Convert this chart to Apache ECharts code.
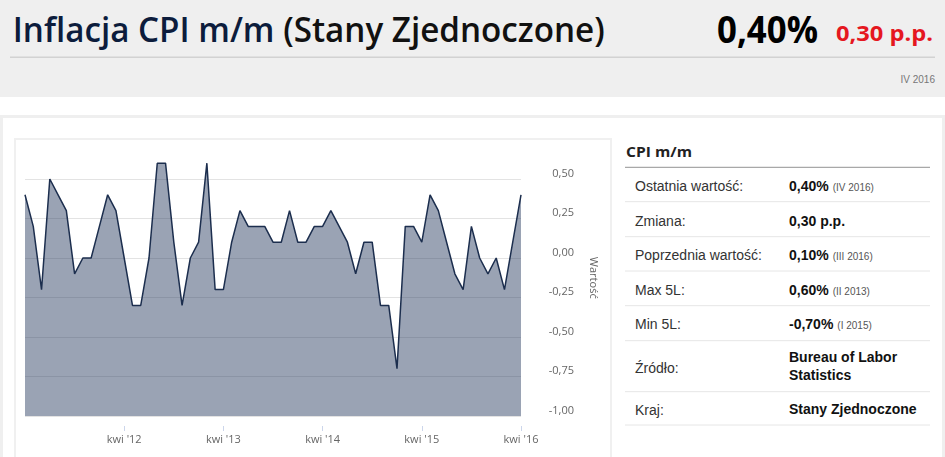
<!DOCTYPE html>
<html>
<head>
<meta charset="utf-8">
<script src="https://cdn.jsdelivr.net/npm/echarts@6/dist/echarts.min.js"></script>
<style>
html,body{margin:0;padding:0;background:#fff;}
body{width:945px;height:457px;overflow:hidden;position:relative;}
#bg{position:absolute;left:0;top:0;}
#chart{position:absolute;left:0;top:130px;width:611px;height:327px;}
</style>
</head>
<body>
<svg id="bg" width="945" height="457" xmlns="http://www.w3.org/2000/svg">
  <rect x="0" y="0" width="945" height="97" fill="#efefef"/>
  <text x="12.7" y="41.7" font-family="'Open Sans', sans-serif" font-size="35" font-weight="600" textLength="592" lengthAdjust="spacingAndGlyphs"><tspan fill="#0c1c3c">Inflacja CPI m/m</tspan><tspan fill="#111"> (Stany Zjednoczone)</tspan></text>
  <text x="717" y="43.3" font-family="'Open Sans', sans-serif" font-size="37" font-weight="700" fill="#000" textLength="101" lengthAdjust="spacingAndGlyphs">0,40%</text>
  <text x="836" y="40.7" font-family="'Open Sans', sans-serif" font-size="22" font-weight="700" fill="#e5171f" textLength="97" lengthAdjust="spacingAndGlyphs">0,30 p.p.</text>
  <line x1="10" y1="57.3" x2="935" y2="57.3" stroke="#d2d2d2" stroke-width="1.5"/>
  <text x="935" y="82.5" text-anchor="end" font-family="'Liberation Sans', Arial, sans-serif" font-size="10" fill="#777">IV 2016</text>

  <rect x="1.5" y="116.5" width="942" height="400" fill="none" stroke="#efefef" stroke-width="3"/>
  <rect x="15" y="139" width="596" height="400" fill="none" stroke="#f0f0f0" stroke-width="2"/>

  <g font-family="'Liberation Sans', Arial, sans-serif">
    <text x="626" y="156.7" font-family="'Open Sans', sans-serif" font-size="15" font-weight="700" fill="#222" textLength="66" lengthAdjust="spacingAndGlyphs">CPI m/m</text>
    <line x1="625" y1="167.3" x2="930" y2="167.3" stroke="#a8a8a8" stroke-width="1.2"/>
    <g stroke="#e6e6e6" stroke-width="1">
      <line x1="625" y1="201.7" x2="930" y2="201.7"/>
      <line x1="625" y1="236.7" x2="930" y2="236.7"/>
      <line x1="625" y1="271" x2="930" y2="271"/>
      <line x1="625" y1="305.7" x2="930" y2="305.7"/>
      <line x1="625" y1="340.7" x2="930" y2="340.7"/>
      <line x1="625" y1="391.7" x2="930" y2="391.7"/>
      <line x1="625" y1="425" x2="930" y2="425"/>
    </g>
    <g font-size="14" fill="#333">
      <text x="635" y="190.7">Ostatnia wartość:</text>
      <text x="635" y="225.7">Zmiana:</text>
      <text x="635" y="259.5">Poprzednia wartość:</text>
      <text x="635" y="295">Max 5L:</text>
      <text x="635" y="329.3">Min 5L:</text>
      <text x="635" y="373.3">Źródło:</text>
      <text x="635" y="415">Kraj:</text>
    </g>
    <g fill="#111">
      <text x="789" y="190.7"><tspan font-size="14" font-weight="700">0,40%</tspan><tspan font-size="10" fill="#555" dx="4">(IV 2016)</tspan></text>
      <text x="789" y="225.7" font-size="14" font-weight="700">0,30 p.p.</text>
      <text x="789" y="259.5"><tspan font-size="14" font-weight="700">0,10%</tspan><tspan font-size="10" fill="#555" dx="4">(III 2016)</tspan></text>
      <text x="789" y="295"><tspan font-size="14" font-weight="700">0,60%</tspan><tspan font-size="10" fill="#555" dx="4">(II 2013)</tspan></text>
      <text x="789" y="329.3"><tspan font-size="14" font-weight="700">-0,70%</tspan><tspan font-size="10" fill="#555" dx="4">(I 2015)</tspan></text>
      <text x="789" y="362.3" font-size="14" font-weight="700">Bureau of Labor</text>
      <text x="789" y="380" font-size="14" font-weight="700">Statistics</text>
      <text x="789" y="414" font-size="14" font-weight="700">Stany Zjednoczone</text>
    </g>
  </g>
</svg>
<div id="chart"></div>
<script>
const categories = [
  "kwi '11","maj '11","cze '11","lip '11","sie '11","wrz '11","paź '11","lis '11","gru '11",
  "sty '12","lut '12","mar '12","kwi '12","maj '12","cze '12","lip '12","sie '12","wrz '12","paź '12","lis '12","gru '12",
  "sty '13","lut '13","mar '13","kwi '13","maj '13","cze '13","lip '13","sie '13","wrz '13","paź '13","lis '13","gru '13",
  "sty '14","lut '14","mar '14","kwi '14","maj '14","cze '14","lip '14","sie '14","wrz '14","paź '14","lis '14","gru '14",
  "sty '15","lut '15","mar '15","kwi '15","maj '15","cze '15","lip '15","sie '15","wrz '15","paź '15","lis '15","gru '15",
  "sty '16","lut '16","mar '16","kwi '16"
];
const cpiValues = [
  0.4, 0.2, -0.2, 0.5, 0.4, 0.3, -0.1, 0.0, 0.0,
  0.2, 0.4, 0.3, 0.0, -0.3, -0.3, 0.0, 0.6, 0.6, 0.1, -0.3, 0.0,
  0.1, 0.6, -0.2, -0.2, 0.1, 0.3, 0.2, 0.2, 0.2, 0.1, 0.1, 0.3,
  0.1, 0.1, 0.2, 0.2, 0.3, 0.2, 0.1, -0.1, 0.1, 0.1, -0.3, -0.3,
  -0.7, 0.2, 0.2, 0.1, 0.4, 0.3, 0.1, -0.1, -0.2, 0.2, 0.0, -0.1,
  0.0, -0.2, 0.1, 0.4
];
const xTickLabels = ["kwi '12", "kwi '13", "kwi '14", "kwi '15", "kwi '16"];
const yMin = -1, yMax = 0.75, yStep = 0.25, yTopLabel = 0.5;
const yAxisName = "Wartość";

const showTick = (idx, val) => xTickLabels.indexOf(val) !== -1;
const chart = echarts.init(document.getElementById('chart'));
chart.setOption({
  animation: false,
  grid: { left: 25, top: 9.5, width: 496, height: 276.5, containLabel: false },
  xAxis: {
    type: 'category',
    data: categories,
    boundaryGap: false,
    offset: 10,
    axisLine: { show: false, onZero: false },
    axisTick: { show: true, interval: showTick, length: 5, lineStyle: { color: '#ccd6eb' } },
    axisLabel: { interval: showTick, color: '#666', fontSize: 11, fontFamily: "'Open Sans', sans-serif", margin: 8 },
    splitLine: { show: false }
  },
  yAxis: {
    type: 'value',
    position: 'right',
    min: yMin, max: yMax, interval: yStep,
    axisLine: { show: false },
    axisTick: { show: false },
    splitLine: { show: true, showMaxLine: false, lineStyle: { color: '#e3e3e3', width: 1 } },
    axisLabel: {
      color: '#666', fontSize: 11, fontFamily: "'Open Sans', sans-serif",
      align: 'right', margin: 53, verticalAlign: 'bottom',
      formatter: v => v > yTopLabel + 1e-9 ? '' : v.toFixed(2).replace('.', ',')
    },
    name: yAxisName,
    nameLocation: 'middle',
    nameRotate: -90,
    nameGap: 67,
    nameTextStyle: { color: '#666', fontSize: 11, fontFamily: "'Open Sans', sans-serif" }
  },
  series: [{
    type: 'line',
    data: cpiValues,
    symbol: 'none',
    lineStyle: { color: '#1c2e4e', width: 1.5 },
    areaStyle: { color: 'rgba(30,52,88,0.45)', opacity: 1, origin: 'start' }
  }]
});
</script>
</body>
</html>
